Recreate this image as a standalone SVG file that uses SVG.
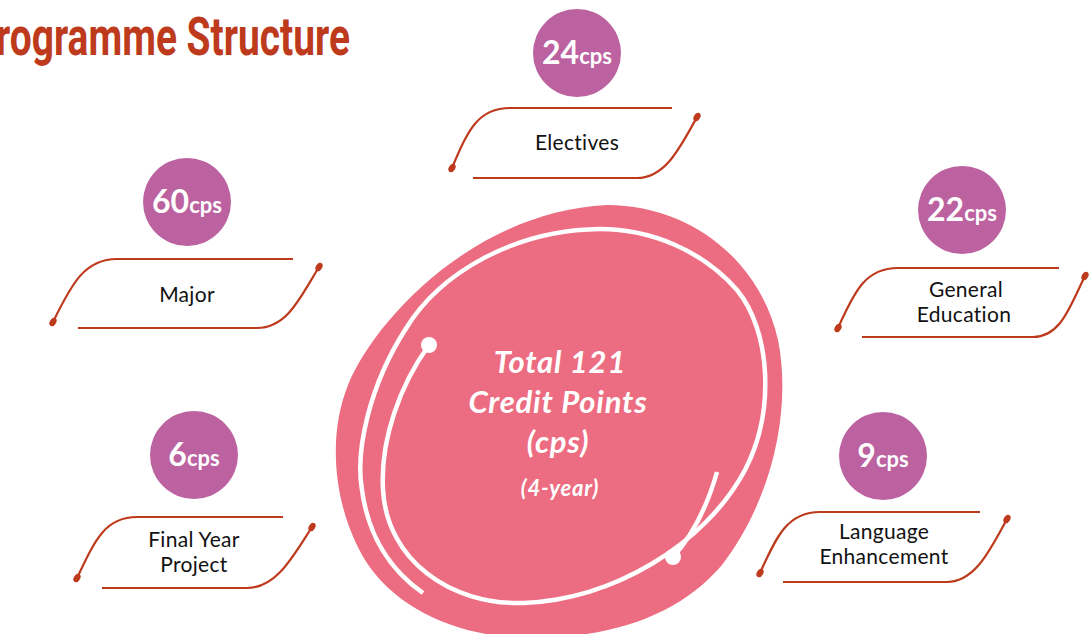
<svg xmlns="http://www.w3.org/2000/svg" width="1090" height="634" viewBox="0 0 1090 634">
<style>
.title{font-family:"Roboto","Liberation Sans",sans-serif;font-weight:bold;font-size:54px;fill:#BE3A1D}
.badge{fill:#BC62A0}
.num{font-family:"Lato","Noto Sans",sans-serif;font-weight:bold;fill:#fff;text-anchor:middle}
.big{font-size:32px}
.sm{font-size:22px}
.frame{fill:none;stroke:#BE3A1D;stroke-width:2.2}
.dot{fill:#BE3A1D}
.lbl{font-family:"Lato","Noto Sans",sans-serif;font-size:21px;fill:#111;text-anchor:middle;letter-spacing:0.3px}
.ring{fill:none;stroke:#fff;stroke-width:4.5;stroke-linecap:butt}
.ctr{font-family:"Lato","Noto Sans",sans-serif;font-weight:bold;font-style:italic;fill:#fff;text-anchor:middle;letter-spacing:0.8px}
</style>
<rect width="1090" height="634" fill="#fff"/>
<text class="title" x="-29" y="55" textLength="379" lengthAdjust="spacingAndGlyphs">Programme Structure</text>

<g id="total">
<path d="M607,205 C690,205 760,260 778,340 C792,410 772,500 722,565 C682,612 620,636 540,638 C470,640 400,615 365,560 C335,510 326,440 348,385 C372,325 470,212 607,205 Z" fill="#EC6D81"/>
<path class="ring" d="M429,345 C400,385 380,440 383,490 C387,560 450,605 523,603 C612,600 705,545 745,470 C776,410 770,330 737,290 C702,250 650,229 600,229 C515,230 440,272 405,330 C370,385 355,450 362,490 C368,535 390,570 423,593"/>
<path class="ring" d="M717,472 Q702,525 673,557"/>
<circle cx="429" cy="345" r="8" fill="#fff"/>
<circle cx="673" cy="557" r="8" fill="#fff"/>
<text class="ctr" x="560" y="373" font-size="31">Total 121</text>
<text class="ctr" x="558" y="413" font-size="31">Credit Points</text>
<text class="ctr" x="558" y="453" font-size="31">(cps)</text>
<text class="ctr" x="560" y="496" font-size="22">(4-year)</text>
</g>

<g id="electives">
<circle class="badge" cx="577" cy="53" r="44"/>
<text class="num" x="577" y="64"><tspan class="big">24</tspan><tspan class="sm">cps</tspan></text>
<path class="frame" d="M672,108 L510,108 C478,108 468,130 452,168"/>
<path class="frame" d="M473,178 L637,178 C665,178 680,148 697,117"/>
<ellipse class="dot" cx="452" cy="168" rx="4.5" ry="3.2" transform="rotate(-60 452 168)"/>
<ellipse class="dot" cx="697" cy="117" rx="4.5" ry="3.2" transform="rotate(-60 697 117)"/>
<text class="lbl" x="577" y="150">Electives</text>
</g>

<g id="major">
<circle class="badge" cx="187" cy="202" r="44"/>
<text class="num" x="187" y="213"><tspan class="big">60</tspan><tspan class="sm">cps</tspan></text>
<path class="frame" d="M293,259 L117,259 C85,259 72,283 53,322"/>
<path class="frame" d="M78,328 L257,328 C287,328 300,298 319,267"/>
<ellipse class="dot" cx="53" cy="322" rx="4.5" ry="3.2" transform="rotate(-60 53 322)"/>
<ellipse class="dot" cx="319" cy="267" rx="4.5" ry="3.2" transform="rotate(-60 319 267)"/>
<text class="lbl" x="187" y="302">Major</text>
</g>

<g id="general-education">
<circle class="badge" cx="962" cy="210" r="44"/>
<text class="num" x="962" y="221"><tspan class="big">22</tspan><tspan class="sm">cps</tspan></text>
<path class="frame" d="M1059,268 L898,268 C866,268 855,290 838,328"/>
<path class="frame" d="M862,337 L1033,337 C1061,337 1070,306 1085,276"/>
<ellipse class="dot" cx="838" cy="328" rx="4.5" ry="3.2" transform="rotate(-60 838 328)"/>
<ellipse class="dot" cx="1085" cy="276" rx="4.5" ry="3.2" transform="rotate(-60 1085 276)"/>
<text class="lbl" x="966" y="297">General</text>
<text class="lbl" x="964" y="322">Education</text>
</g>

<g id="final-year-project">
<circle class="badge" cx="194" cy="455" r="44"/>
<text class="num" x="194" y="466"><tspan class="big">6</tspan><tspan class="sm">cps</tspan></text>
<path class="frame" d="M283,517 L137,517 C105,517 95,540 77,578"/>
<path class="frame" d="M102,588 L247,588 C276,588 292,558 312,527"/>
<ellipse class="dot" cx="77" cy="578" rx="4.5" ry="3.2" transform="rotate(-60 77 578)"/>
<ellipse class="dot" cx="312" cy="527" rx="4.5" ry="3.2" transform="rotate(-60 312 527)"/>
<text class="lbl" x="194" y="547">Final Year</text>
<text class="lbl" x="194" y="572">Project</text>
</g>

<g id="language-enhancement">
<circle class="badge" cx="883" cy="456" r="44"/>
<text class="num" x="883" y="467"><tspan class="big">9</tspan><tspan class="sm">cps</tspan></text>
<path class="frame" d="M980,512 L820,512 C788,512 777,535 760,573"/>
<path class="frame" d="M783,582 L947,582 C975,582 990,550 1007,519"/>
<ellipse class="dot" cx="760" cy="573" rx="4.5" ry="3.2" transform="rotate(-60 760 573)"/>
<ellipse class="dot" cx="1007" cy="519" rx="4.5" ry="3.2" transform="rotate(-60 1007 519)"/>
<text class="lbl" x="884" y="539">Language</text>
<text class="lbl" x="884" y="564">Enhancement</text>
</g>
</svg>
